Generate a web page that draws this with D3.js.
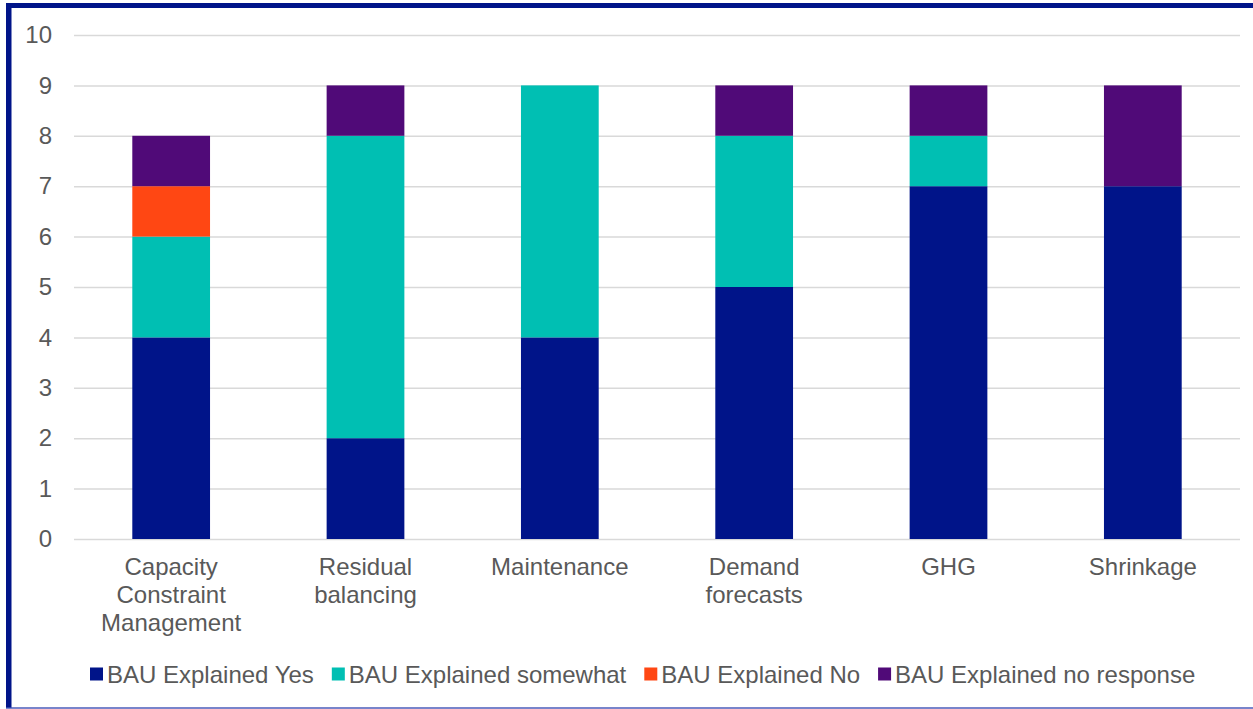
<!DOCTYPE html>
<html><head><meta charset="utf-8">
<script src="https://cdn.jsdelivr.net/npm/d3@7"></script>
<style>body{margin:0;background:#fff}svg{display:block}</style>
</head><body>
<svg id="c" width="1253" height="709"></svg>
<script>
const categories = [["Capacity","Constraint","Management"],["Residual","balancing"],["Maintenance"],["Demand","forecasts"],["GHG"],["Shrinkage"]];
const seriesNames = ["BAU Explained Yes","BAU Explained somewhat","BAU Explained No","BAU Explained no response"];
const yesVals = [4,2,4,5,7,7];
const somewhatVals = [2,6,5,3,1,0];
const noVals = [1,0,0,0,0,0];
const noRespVals = [1,1,0,1,1,2];
const yTicks = [0,1,2,3,4,5,6,7,8,9,10];
const colors = ["#001489","#00BFB3","#FF4713","#500A78"];

const svg = d3.select("#c");
const font = "Liberation Sans, Arial, sans-serif";
const textCol = "#595959";
const fs = 24;
// border (left & top thick, bottom thin)
svg.append("rect").attr("x",6).attr("y",3).attr("width",5.5).attr("height",705).attr("fill","#001489");
svg.append("rect").attr("x",6).attr("y",3).attr("width",1247).attr("height",5).attr("fill","#001489");
svg.append("rect").attr("x",6).attr("y",707.3).attr("width",1247).attr("height",1.4).attr("fill","#3F51B5");

const x = d3.scaleBand().domain(d3.range(categories.length)).range([74,1240]).paddingInner(0.6).paddingOuter(0.3);
const y = d3.scaleLinear().domain([0,10]).range([539,35]);

const rows = categories.map((c,i)=>({i, v:[yesVals[i],somewhatVals[i],noVals[i],noRespVals[i]]}));
const stack = d3.stack().keys([0,1,2,3]).value((d,k)=>d.v[k])(rows);

// grid
const yAxis = d3.axisLeft(y).tickValues(yTicks).tickSize(-(1240-74)).tickPadding(22);
const ga = svg.append("g").attr("transform","translate(74,0)").call(yAxis);
ga.select(".domain").remove();
ga.selectAll(".tick line").attr("stroke","#D9D9D9").attr("stroke-width",1.5);
ga.selectAll(".tick text").attr("fill",textCol).attr("font-family",font).attr("font-size",fs);

// bars
stack.forEach((s,k)=>{
  svg.append("g").selectAll("rect").data(s).join("rect")
    .attr("x",d=>x(d.data.i)).attr("width",x.bandwidth())
    .attr("y",d=>y(d[1])).attr("height",d=>y(d[0])-y(d[1]))
    .attr("fill",colors[k]);
});

// x labels
const xa = svg.append("g");
categories.forEach((lines,i)=>{
  const t = xa.append("text").attr("text-anchor","middle").attr("fill",textCol).attr("font-family",font).attr("font-size",fs);
  lines.forEach((l,j)=>t.append("tspan").attr("x",x(i)+x.bandwidth()/2).attr("y",575+j*28).text(l));
});

// legend
const lg = svg.append("g");
let lx = 90;
seriesNames.forEach((n,k)=>{
  lg.append("rect").attr("x",lx).attr("y",667.5).attr("width",13).attr("height",13).attr("fill",colors[k]);
  const t = lg.append("text").attr("x",lx+17).attr("y",682.5).attr("fill",textCol).attr("font-family",font).attr("font-size",fs).text(n);
  lx += 17 + t.node().getComputedTextLength() + 18;
});
</script>
</body></html>
